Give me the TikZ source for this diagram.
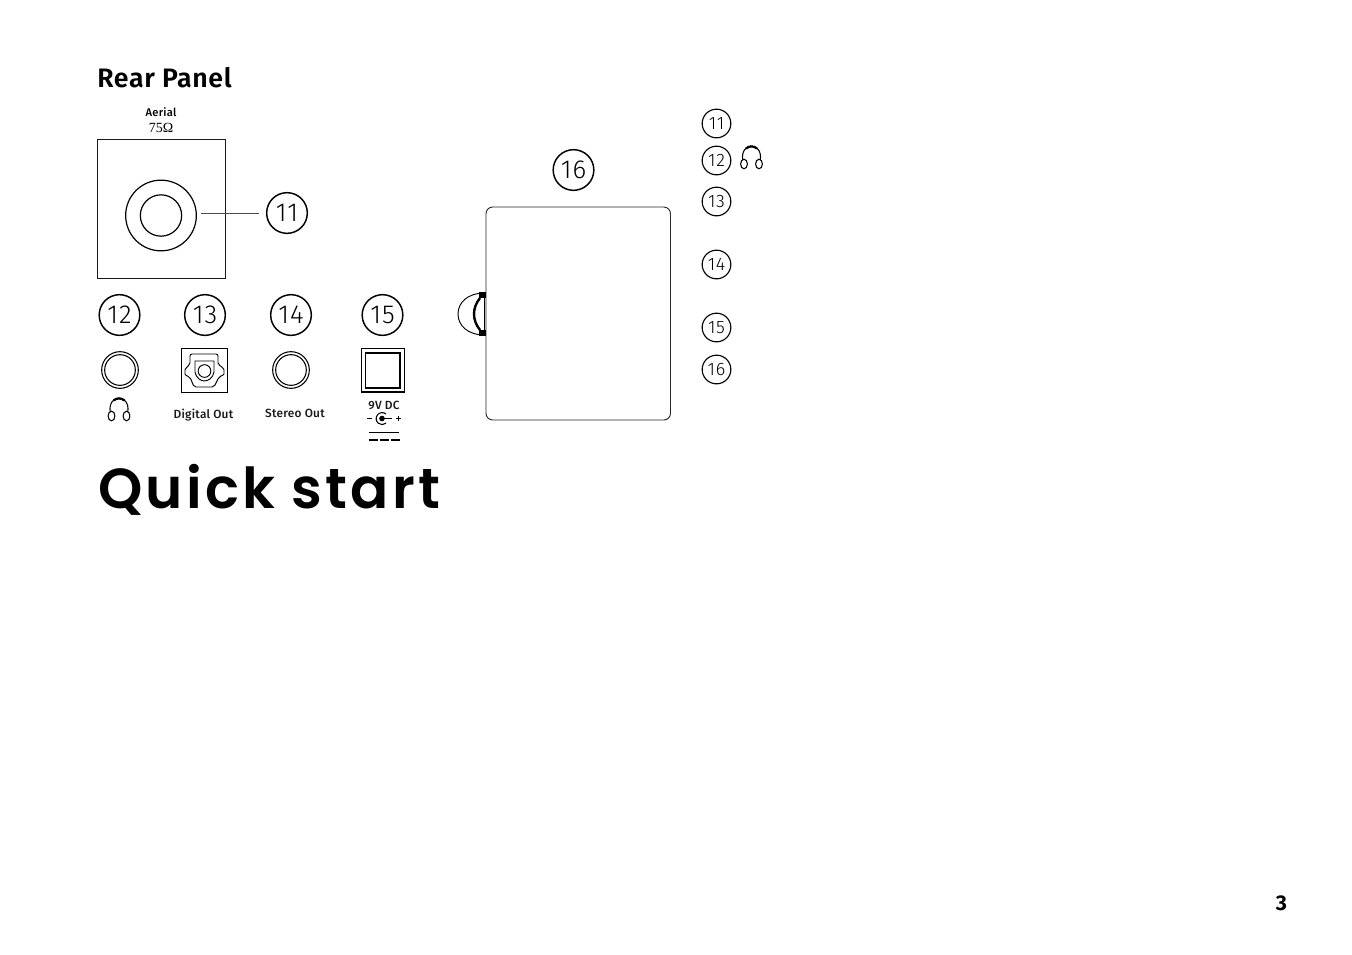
\documentclass[tikz,border=0pt]{standalone}
\usepackage{fontspec}
\setmainfont{Fira Sans}
\newfontfamily\medf[LetterSpace=2]{Fira Sans Medium}
\newfontfamily\headf[LetterSpace=2.5]{Fira Sans SemiBold}
\newfontfamily\numf[LetterSpace=4]{Fira Sans Light}
\newfontfamily\titlef[LetterSpace=5.6]{Poppins SemiBold}
\newfontfamily\ohmf{Liberation Serif}
\usetikzlibrary{calc}
\tikzset{
  x=0.75pt,y=-0.75pt,
  bignum/.style={circle,draw=black,line width=1.1pt,minimum size=30.5pt,inner sep=0pt,font=\numf\fontsize{19.5}{20}\selectfont},
  smallnum/.style={circle,draw=black,line width=0.85pt,minimum size=21.5pt,inner sep=0pt,font=\numf\fontsize{13.5}{14}\selectfont},
  caption/.style={inner sep=0pt,font=\medf\fontsize{8.9}{10}\selectfont,text=black!90},
  phones/.pic={
    \draw[line width=0.8pt] (-8.8,2) .. controls (-11.5,-16.5) and (11.5,-16.5) .. (8.8,2);
    \draw[line width=1.7pt] (-5.5,-9.5) .. controls (-2,-12.3) and (2,-12.3) .. (5.5,-9.5);
    \draw[line width=0.8pt] (-7.5,6) ellipse (3.4 and 4.8);
    \draw[line width=0.8pt] (7.5,6) ellipse (3.4 and 4.8);
  }
}
\begin{document}
\begin{tikzpicture}
\useasboundingbox (0,0) rectangle (1352,954);
\fill[white] (0,0) rectangle (1352,954);

\node[anchor=base west,inner sep=0pt,font=\headf\fontsize{20}{22}\selectfont] (rear) at (97,87) {Rear Panel};
\node[anchor=base,inner sep=0pt,font=\medf\fontsize{8.4}{10}\selectfont] (aerial) at (161,116) {Aerial};
\node[anchor=base,inner sep=0pt,font=\ohmf\fontsize{10.5}{10}\selectfont] (ohm) at (161,132) {75Ω};

% aerial panel
\draw[line width=0.7pt,draw=black!90] (97,139) rectangle (225,278);
\node[circle,draw,line width=0.9pt,minimum size=53pt,inner sep=0pt] (ant) at (161,215.5) {};
\node[circle,draw,line width=0.9pt,minimum size=31pt,inner sep=0pt] at (161,215.5) {};
\node[bignum] (n11) at (287,213) {11};
\coordinate (l11) at (201,213);
\draw[line width=0.6pt,draw=black!70] (n11) ++(-28,0) -- (l11);

% numbered row
\node[bignum] (n12) at (119.5,315) {12};
\node[bignum] (n13) at (205,315) {13};
\node[bignum] (n14) at (291,315) {14};
\node[bignum] (n15) at (382.5,315) {15};

% jack 12
\node[circle,draw,line width=0.8pt,minimum size=27.5pt,inner sep=0pt] (j12) at (120,370) {};
\node[circle,draw,line width=0.8pt,minimum size=23pt,inner sep=0pt] at (120,370) {};
\pic at (119,410) {phones};

% optical 13
\draw[line width=0.65pt] (181,348) rectangle (227,392);
\draw[line width=0.7pt,rounded corners=1.5pt] (190,354) -- (218,354) -- (218,365) .. controls (221,366) and (224,369) .. (224,372)
  .. controls (224,375) and (221,376) .. (219,377) -- (214,387) -- (194,387) -- (190,377)
  .. controls (187,376) and (185,375) .. (185,372) .. controls (185,369) and (188,366) .. (190,365) -- cycle;
\draw[line width=0.7pt] (195,361) -- (214,361) -- (214,372) .. controls (213,378) and (208,381) .. (204.5,381) .. controls (201,381) and (196,378) .. (195,372) -- cycle;
\node[circle,draw,line width=0.7pt,minimum size=9.5pt,inner sep=0pt] (j13) at (204.5,371) {};
\node[caption,anchor=base] (dig) at (203.5,418) {Digital Out};

% jack 14
\node[circle,draw,line width=0.8pt,minimum size=27.5pt,inner sep=0pt] (j14) at (291,370) {};
\node[circle,draw,line width=0.8pt,minimum size=23pt,inner sep=0pt] at (291,370) {};
\node[caption,anchor=base] (ster) at (295,417) {Stereo Out};

% DC 15
\draw[line width=0.9pt] (361.5,348.5) rectangle (404.5,392);
\draw[line width=1.2pt] (365.5,353) rectangle (400,388);
\node[caption,anchor=base] (vdc) at (384,409) {9V DC};
\fill (382,418.5) circle (2.8);
\draw[line width=0.8pt] (386,414) arc (-50:-310:6);
\draw[line width=0.7pt] (382,418.5) -- (392,418.5);
\draw[line width=0.7pt] (367,418.5) -- (372,418.5);
\draw[line width=0.7pt] (396,418.5) -- (401,418.5) (398.5,416) -- (398.5,421);
\draw[line width=0.7pt] (368.5,432.5) -- (399,432.5);
\draw[line width=1.1pt] (368.5,440) -- (378,440) (379.5,440) -- (389,440) (390.5,440) -- (399.5,440);

% device
\node[bignum] (n16) at (573.5,170) {16};
\draw[line width=0.7pt,draw=black!85,rounded corners=5pt] (486,207) rectangle (670.5,420);
\draw[line width=0.7pt] (485,293) .. controls (467,293) and (458,303) .. (458,314) .. controls (458,325) and (467,335) .. (485,335);
\fill (479,292) rectangle (486,298);
\fill (479,329.5) rectangle (486,335.5);
\draw[line width=1.8pt] (480,298) .. controls (472,308) and (472,320) .. (480,330);
\draw[line width=1.2pt] (484.5,297) -- (484.5,331);

% key
\node[smallnum] (k11) at (716.5,123.5) {11};
\node[smallnum] (k12) at (716.5,160.5) {12};
\pic at (751.5,158) {phones};
\node[smallnum] (k13) at (716.5,201.5) {13};
\node[smallnum] (k14) at (716.5,264.5) {14};
\node[smallnum] (k15) at (716.5,327.5) {15};
\node[smallnum] (k16) at (716.5,369.5) {16};

\node[anchor=base west,inner sep=0pt,font=\titlef\fontsize{42.3}{44}\selectfont] (qs) at (98,508) {Quick start};
\node[anchor=base,inner sep=0pt,font=\bfseries\fontsize{16}{18}\selectfont] (pg) at (1281.5,910) {3};
\end{tikzpicture}
\end{document}
